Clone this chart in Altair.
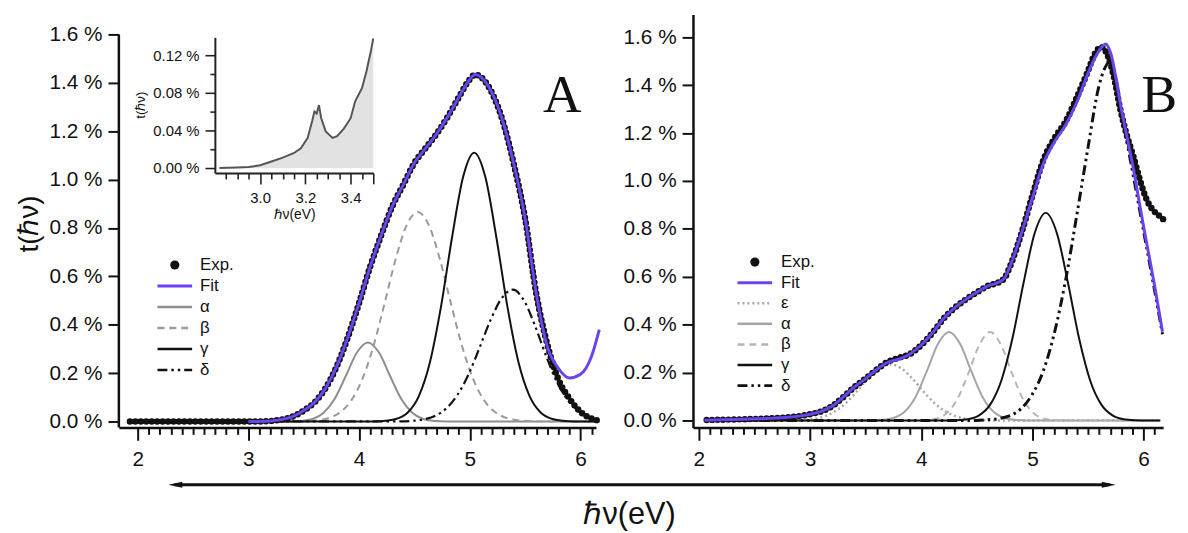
import altair as alt
import pandas as pd

# ---------------- Panel A data (t in %) ----------------
A_exp_x = [1.93, 2.5, 3.0, 3.1, 3.2, 3.3, 3.4, 3.5, 3.6, 3.7, 3.8, 3.9, 4.0, 4.1, 4.2, 4.3, 4.4, 4.5,
           4.6, 4.7, 4.8, 4.9, 5.0, 5.05, 5.1, 5.2, 5.3, 5.4, 5.5, 5.6, 5.7, 5.8, 5.9, 6.0, 6.1, 6.16]
A_exp_y = [0, 0, 0, 0, 0.002, 0.008, 0.02, 0.045, 0.08, 0.14, 0.23, 0.35, 0.49, 0.64, 0.77, 0.89, 0.98, 1.07,
           1.13, 1.19, 1.26, 1.34, 1.415, 1.435, 1.425, 1.36, 1.24, 1.06, 0.84, 0.53, 0.32, 0.175, 0.095, 0.04, 0.012, 0.004]

A_fit_x = [3.0, 3.1, 3.2, 3.3, 3.4, 3.5, 3.6, 3.7, 3.8, 3.9, 4.0, 4.1, 4.2, 4.3, 4.4, 4.5, 4.6, 4.7, 4.8, 4.9,
           5.0, 5.05, 5.1, 5.2, 5.3, 5.4, 5.5, 5.6, 5.7, 5.8, 5.9, 6.0, 6.1, 6.17]
A_fit_y = [0, 0, 0.002, 0.008, 0.02, 0.045, 0.08, 0.14, 0.23, 0.35, 0.49, 0.64, 0.77, 0.89, 0.98, 1.07, 1.13, 1.19, 1.26, 1.34,
           1.415, 1.435, 1.425, 1.36, 1.24, 1.06, 0.84, 0.53, 0.31, 0.22, 0.18, 0.195, 0.27, 0.38]

A_alpha_x = [1.95, 3.38, 3.48, 3.58, 3.68, 3.78, 3.88, 3.98, 4.08, 4.18, 4.28, 4.38, 4.48, 4.58, 4.68, 4.78, 6.15]
A_alpha_y = [0, 0, 0.002, 0.010, 0.036, 0.094, 0.188, 0.285, 0.327, 0.285, 0.188, 0.094, 0.036, 0.010, 0.002, 0, 0]

A_beta_x = [1.95, 3.43, 3.53, 3.63, 3.73, 3.83, 3.93, 4.03, 4.13, 4.23, 4.33, 4.43, 4.53, 4.63, 4.73, 4.83,
            4.93, 5.03, 5.13, 5.23, 5.33, 5.43, 5.53, 5.63, 6.15]
A_beta_y = [0, 0, 0.0015, 0.005, 0.015, 0.038, 0.087, 0.176, 0.312, 0.488, 0.671, 0.812, 0.866, 0.812, 0.671, 0.488,
            0.312, 0.176, 0.087, 0.038, 0.015, 0.005, 0.0015, 0, 0]

A_gamma_x = [1.95, 4.14, 4.24, 4.34, 4.44, 4.54, 4.64, 4.74, 4.84, 4.94, 5.04, 5.14, 5.24, 5.34, 5.44, 5.54,
             5.64, 5.74, 5.84, 5.94, 6.15]
A_gamma_y = [0, 0, 0.003, 0.011, 0.037, 0.105, 0.245, 0.475, 0.762, 1.012, 1.112, 1.012, 0.762, 0.475, 0.245, 0.105,
             0.037, 0.011, 0.003, 0, 0]

A_delta_x = [1.95, 4.39, 4.49, 4.59, 4.69, 4.79, 4.89, 4.99, 5.09, 5.19, 5.29, 5.39, 5.49, 5.59, 5.69, 5.79,
             5.89, 5.99, 6.09, 6.15]
A_delta_y = [0, 0, 0.003, 0.009, 0.024, 0.055, 0.111, 0.196, 0.307, 0.422, 0.511, 0.545, 0.50, 0.395, 0.27, 0.16,
             0.085, 0.04, 0.016, 0.008]

# inset of panel A
inset_x = [2.82, 2.9, 2.95, 3.0, 3.05, 3.1, 3.15, 3.18, 3.21, 3.23, 3.24, 3.25, 3.26, 3.27, 3.29, 3.32,
           3.34, 3.37, 3.40, 3.42, 3.45, 3.47, 3.49, 3.5]
inset_y = [0.0, 0.0005, 0.001, 0.003, 0.007, 0.011, 0.016, 0.021, 0.032, 0.050, 0.060, 0.058, 0.067, 0.053, 0.039, 0.032,
           0.034, 0.042, 0.053, 0.071, 0.085, 0.103, 0.125, 0.138]

# ---------------- Panel B data (t in %) ----------------
B_exp_x = [2.07, 2.2, 2.4, 2.6, 2.8, 2.9, 3.0, 3.1, 3.2, 3.3, 3.4, 3.5, 3.6, 3.7, 3.8, 3.9, 4.0, 4.1, 4.2,
           4.3, 4.4, 4.5, 4.6, 4.7, 4.75, 4.8, 4.9, 5.0, 5.1, 5.2, 5.3, 5.4, 5.5, 5.56, 5.62, 5.68, 5.73,
           5.79, 5.85, 5.91, 5.97, 6.03, 6.09, 6.14, 6.19]
B_exp_y = [0.002, 0.003, 0.005, 0.008, 0.013, 0.018, 0.026, 0.038, 0.06, 0.098, 0.14, 0.175, 0.213, 0.245, 0.262, 0.278,
           0.315, 0.365, 0.425, 0.47, 0.505, 0.535, 0.562, 0.578, 0.595, 0.645, 0.78, 0.94, 1.09, 1.18, 1.25, 1.35,
           1.46, 1.53, 1.56, 1.52, 1.44, 1.30, 1.19, 1.10, 1.0, 0.92, 0.876, 0.855, 0.835]

B_fit_x = [2.05, 2.2, 2.4, 2.6, 2.8, 2.9, 3.0, 3.1, 3.2, 3.3, 3.4, 3.5, 3.6, 3.7, 3.8, 3.9, 4.0, 4.1, 4.2, 4.3,
           4.4, 4.5, 4.6, 4.7, 4.75, 4.8, 4.9, 5.0, 5.1, 5.2, 5.3, 5.4, 5.5, 5.6, 5.66, 5.7, 5.8, 5.9, 6.0, 6.1, 6.17]
B_fit_y = [0.001, 0.003, 0.005, 0.008, 0.013, 0.018, 0.026, 0.038, 0.06, 0.098, 0.14, 0.175, 0.213, 0.243, 0.256, 0.278,
           0.315, 0.365, 0.425, 0.47, 0.505, 0.535, 0.562, 0.578, 0.595, 0.645, 0.78, 0.93, 1.075, 1.165, 1.235, 1.33,
           1.45, 1.545, 1.572, 1.54, 1.30, 1.07, 0.81, 0.56, 0.37]

B_eps_x = [2.07, 2.82, 2.92, 3.02, 3.12, 3.22, 3.32, 3.42, 3.52, 3.62, 3.72, 3.82, 3.92, 4.02, 4.12, 4.22,
           4.32, 4.42, 4.52, 4.62, 6.15]
B_eps_y = [0, 0, 0.002, 0.006, 0.016, 0.037, 0.072, 0.121, 0.175, 0.218, 0.235, 0.218, 0.175, 0.121, 0.072, 0.037,
           0.016, 0.006, 0.002, 0, 0]

B_alpha_x = [2.07, 3.55, 3.65, 3.75, 3.85, 3.95, 4.05, 4.15, 4.25, 4.35, 4.45, 4.55, 4.65, 4.75, 4.85, 4.95, 6.15]
B_alpha_y = [0, 0, 0.002, 0.010, 0.036, 0.099, 0.206, 0.319, 0.369, 0.319, 0.206, 0.099, 0.036, 0.010, 0.002, 0, 0]

B_beta_x = [2.07, 3.92, 4.02, 4.12, 4.22, 4.32, 4.42, 4.52, 4.62, 4.72, 4.82, 4.92, 5.02, 5.12, 5.22, 5.32, 6.15]
B_beta_y = [0, 0, 0.001, 0.006, 0.027, 0.085, 0.192, 0.313, 0.369, 0.313, 0.192, 0.085, 0.027, 0.006, 0.001, 0, 0]

B_gamma_x = [2.07, 4.22, 4.32, 4.42, 4.52, 4.62, 4.72, 4.82, 4.92, 5.02, 5.12, 5.22, 5.32, 5.42, 5.52, 5.62,
             5.72, 5.82, 5.92, 6.02, 6.15]
B_gamma_y = [0, 0, 0.001, 0.005, 0.021, 0.066, 0.166, 0.342, 0.574, 0.782, 0.867, 0.782, 0.574, 0.342, 0.166, 0.066,
             0.021, 0.005, 0.001, 0, 0]

B_delta_x = [2.07, 4.5, 4.6, 4.7, 4.8, 4.9, 5.0, 5.1, 5.2, 5.3, 5.4, 5.5, 5.6, 5.65, 5.7, 5.75, 5.8, 5.9,
             6.0, 6.1, 6.17]
B_delta_y = [0, 0, 0.003, 0.008, 0.02, 0.05, 0.11, 0.21, 0.37, 0.59, 0.86, 1.14, 1.40, 1.47, 1.50, 1.43, 1.29, 1.04,
             0.79, 0.54, 0.36]

# ---------------- labels / ticks ----------------
legend_A = ["Exp.", "Fit", "α", "β", "γ", "δ"]
legend_B = ["Exp.", "Fit", "ε", "α", "β", "γ", "δ"]
main_y_ticks = [0.0, 0.2, 0.4, 0.6, 0.8, 1.0, 1.2, 1.4, 1.6]
main_x_ticks = [round(2.0 + 0.1 * i, 1) for i in range(42)]
inset_y_ticks = [0.0, 0.02, 0.04, 0.06, 0.08, 0.10, 0.12]
inset_x_ticks = [round(2.85 + 0.05 * i, 2) for i in range(14)]
y_title = "t(ℏν)"
x_title = "ℏν(eV)"

# ---------------- styling ----------------
FONT = "Liberation Sans"
PURPLE = "#6a44ee"
BLACK = "#111111"
A_W, A_H = 482, 417
B_W, B_H = 475, 417

STYLE = {
    "Fit": dict(color=PURPLE, strokeWidth=3),
    "ε": dict(color="#a8a8a8", strokeWidth=2.5, strokeDash=[2, 3]),
    "α": dict(color="#8e8e8e", strokeWidth=2),
    "β": dict(color="#9a9a9a", strokeWidth=2, strokeDash=[7, 5]),
    "γ": dict(color=BLACK, strokeWidth=2),
    "δ": dict(color=BLACK, strokeWidth=2.2, strokeDash=[10, 4, 2.5, 4, 2.5, 4]),
}
STYLE_B = dict(STYLE)
STYLE_B["α"] = dict(color="#a5a5a5", strokeWidth=2)
STYLE_B["β"] = dict(color="#b5b5b5", strokeWidth=2, strokeDash=[7, 5])
STYLE_B["δ"] = dict(color=BLACK, strokeWidth=3, strokeDash=[10, 4, 2.5, 4, 2.5, 4])

INT_TEST = "abs(datum.value - round(datum.value)) < 0.001"
TENTH_TEST = "abs(datum.value * 10 - round(datum.value * 10)) < 0.01"


def frame(xs, ys):
    return pd.DataFrame({"x": xs, "y": ys})


def main_x_axis():
    return alt.Axis(values=main_x_ticks, title=None, grid=False, labelOverlap=False,
                    labelExpr=f"{INT_TEST} ? format(datum.value, 'd') : ''",
                    tickSize={"condition": {"test": INT_TEST, "value": 13}, "value": 7},
                    labelFontSize=21, labelPadding=8, labelFont=FONT, labelColor=BLACK,
                    domainWidth=2.5, domainColor=BLACK, tickWidth=2, tickColor=BLACK)


def main_y_axis(title, domain_line):
    if title:
        kw = dict(title=title, titleFontSize=28, titleFont=FONT, titleFontWeight="normal",
                  titleColor=BLACK, titleX=-90, titleY=211, titleAngle=270,
                  titleAlign="center", titleBaseline="middle")
    else:
        kw = dict(title=None)
    return alt.Axis(values=main_y_ticks, grid=False, labelExpr="format(datum.value, '.1f') + ' %'",
                    labelFontSize=21, labelFont=FONT, labelColor=BLACK, labelPadding=6,
                    tickSize=11, tickWidth=2, tickColor=BLACK,
                    domain=domain_line, domainWidth=2.5, domainColor=BLACK, **kw)


def curve(xs, ys, style, x, y, interp="monotone"):
    return alt.Chart(frame(xs, ys)).mark_line(interpolate=interp, strokeCap="butt", **style).encode(x=x, y=y)


def exp_dots(xs, ys, x, y):
    return alt.Chart(frame(xs, ys)).mark_line(
        interpolate="monotone", color=BLACK, strokeWidth=6.5, strokeCap="round",
        strokeJoin="round", strokeDash=[0, 5.5]).encode(x=x, y=y)


ONE = pd.DataFrame({"k": [0]})


def legend(labels, styles, x0, x1, xtext, y0, dy):
    layers = []
    for i, lab in enumerate(labels):
        yy = y0 + i * dy
        if lab == "Exp.":
            layers.append(alt.Chart(ONE).mark_circle(color=BLACK, opacity=1, size=85).encode(
                x=alt.value((x0 + x1) / 2), y=alt.value(yy)))
        else:
            st = dict(styles[lab])
            st["strokeWidth"] = max(st["strokeWidth"], 2.5)
            layers.append(alt.Chart(ONE).mark_rule(**st).encode(
                x=alt.value(x0), x2=alt.value(x1), y=alt.value(yy)))
        layers.append(alt.Chart(ONE).mark_text(text=lab, font=FONT, fontSize=17, color=BLACK,
                                               align="left", baseline="middle").encode(
            x=alt.value(xtext), y=alt.value(yy)))
    return layers


# ---------------- Panel A ----------------
xA = alt.X("x:Q", scale=alt.Scale(domain=[1.83, 6.14], nice=False, zero=False), axis=main_x_axis())
yA = alt.Y("y:Q", scale=alt.Scale(domain=[-0.0246, 1.683], nice=False, zero=False),
           axis=main_y_axis(y_title, False))

a_axis_line = alt.Chart(pd.DataFrame({"y": [1.6]})).mark_rule(color=BLACK, strokeWidth=2.5).encode(
    x=alt.value(0), y=yA, y2=alt.value(A_H))

main_A = alt.layer(
    curve(A_alpha_x, A_alpha_y, STYLE["α"], xA, yA),
    curve(A_beta_x, A_beta_y, STYLE["β"], xA, yA),
    curve(A_gamma_x, A_gamma_y, STYLE["γ"], xA, yA),
    curve(A_delta_x, A_delta_y, STYLE["δ"], xA, yA),
    exp_dots(A_exp_x, A_exp_y, xA, yA),
    curve(A_fit_x, A_fit_y, STYLE["Fit"], xA, yA),
    a_axis_line,
    *legend(legend_A, STYLE, 39, 74, 82, 253, 21.2),
    alt.Chart(ONE).mark_text(text="A", font="Liberation Serif", fontSize=54, color=BLACK).encode(
        x=alt.value(448), y=alt.value(82)),
    # bottom double arrow and common x-axis title
    alt.Chart(ONE).mark_rule(color=BLACK, strokeWidth=3).encode(
        x=alt.value(56), x2=alt.value(1001), y=alt.value(475)),
    alt.Chart(ONE).mark_point(shape="M-1,0L1,-0.42L1,0.42Z", filled=True, opacity=1, color=BLACK,
                              size=200).encode(x=alt.value(57), y=alt.value(475)),
    alt.Chart(ONE).mark_point(shape="M1,0L-1,-0.42L-1,0.42Z", filled=True, opacity=1, color=BLACK,
                              size=200).encode(x=alt.value(1000), y=alt.value(475)),
    alt.Chart(ONE).mark_text(text=x_title, font=FONT, fontSize=31, color=BLACK).encode(
        x=alt.value(516), y=alt.value(506)),
)

xI = alt.X("x:Q", scale=alt.Scale(domain=[2.8, 3.5], range=[97, 257], nice=False, zero=False),
           axis=alt.Axis(orient="bottom", offset=-257, values=inset_x_ticks, title=x_title,
                         titleFont=FONT, titleFontSize=14, titleFontWeight="normal", titleColor=BLACK,
                         titleY=42, titleBaseline="middle", grid=False, labelOverlap=False,
                         labelExpr=f"{TENTH_TEST} && indexof([30, 32, 34], round(datum.value * 10)) >= 0 ? format(datum.value, '.1f') : ''",
                         tickSize={"condition": {"test": f"{TENTH_TEST} && indexof([30, 32, 34, 35], round(datum.value * 10)) >= 0",
                                                 "value": 11}, "value": 6},
                         labelFontSize=15, labelFont=FONT, labelColor=BLACK, labelPadding=7,
                         domainWidth=2, domainColor="#222", tickWidth=1.6, tickColor="#222"))
yI = alt.Y("y:Q", scale=alt.Scale(domain=[-0.0053, 0.139], range=[160, 23], nice=False, zero=False),
           axis=alt.Axis(orient="left", offset=-97, values=inset_y_ticks, title=y_title,
                         titleFont=FONT, titleFontSize=13.5, titleFontWeight="normal", titleColor=BLACK,
                         titleX=-75, titleY=91, titleAngle=270, titleAlign="center", titleBaseline="middle",
                         grid=False, labelOverlap=False,
                         labelExpr="round(datum.value * 100) % 4 == 0 ? format(datum.value, '.2f') + ' %' : ''",
                         tickSize={"condition": {"test": "round(datum.value * 100) % 4 == 0", "value": 10},
                                   "value": 5},
                         labelFontSize=15, labelFont=FONT, labelColor=BLACK, labelPadding=6,
                         domainWidth=2, domainColor="#222", tickWidth=1.6, tickColor="#222"))

inset = alt.layer(
    alt.Chart(frame(inset_x, inset_y)).mark_area(color="#e2e2e2", opacity=1).encode(
        x=xI, y=yI, y2=alt.datum(0)),
    alt.Chart(frame(inset_x, inset_y)).mark_line(color="#555555", strokeWidth=2).encode(x=xI, y=yI),
)

panel_A = alt.layer(main_A, inset).resolve_scale(x="independent", y="independent").properties(
    width=A_W, height=A_H)

# ---------------- Panel B ----------------
xB = alt.X("x:Q", scale=alt.Scale(domain=[1.947, 6.176], nice=False, zero=False), axis=main_x_axis())
yB = alt.Y("y:Q", scale=alt.Scale(domain=[-0.029, 1.695], nice=False, zero=False),
           axis=main_y_axis(None, True))

panel_B = alt.layer(
    curve(B_eps_x, B_eps_y, STYLE_B["ε"], xB, yB),
    curve(B_alpha_x, B_alpha_y, STYLE_B["α"], xB, yB),
    curve(B_beta_x, B_beta_y, STYLE_B["β"], xB, yB),
    curve(B_gamma_x, B_gamma_y, STYLE_B["γ"], xB, yB),
    curve(B_delta_x, B_delta_y, STYLE_B["δ"], xB, yB),
    exp_dots(B_exp_x, B_exp_y, xB, yB),
    curve(B_fit_x, B_fit_y, STYLE_B["Fit"], xB, yB),
    *legend(legend_B, STYLE_B, 45, 80, 89, 250, 20.8),
    alt.Chart(ONE).mark_text(text="B", font="Liberation Serif", fontSize=54, color=BLACK).encode(
        x=alt.value(471), y=alt.value(82)),
).properties(width=B_W, height=B_H)

chart = alt.HConcatChart(hconcat=[panel_A, panel_B], spacing=98, bounds="flush").properties(
    padding={"left": 8, "top": 4, "right": 2, "bottom": 0}
).configure_view(stroke=None).configure_axis(grid=False)

chart.save("out.html", embed_options={"renderer": "svg", "actions": False})
